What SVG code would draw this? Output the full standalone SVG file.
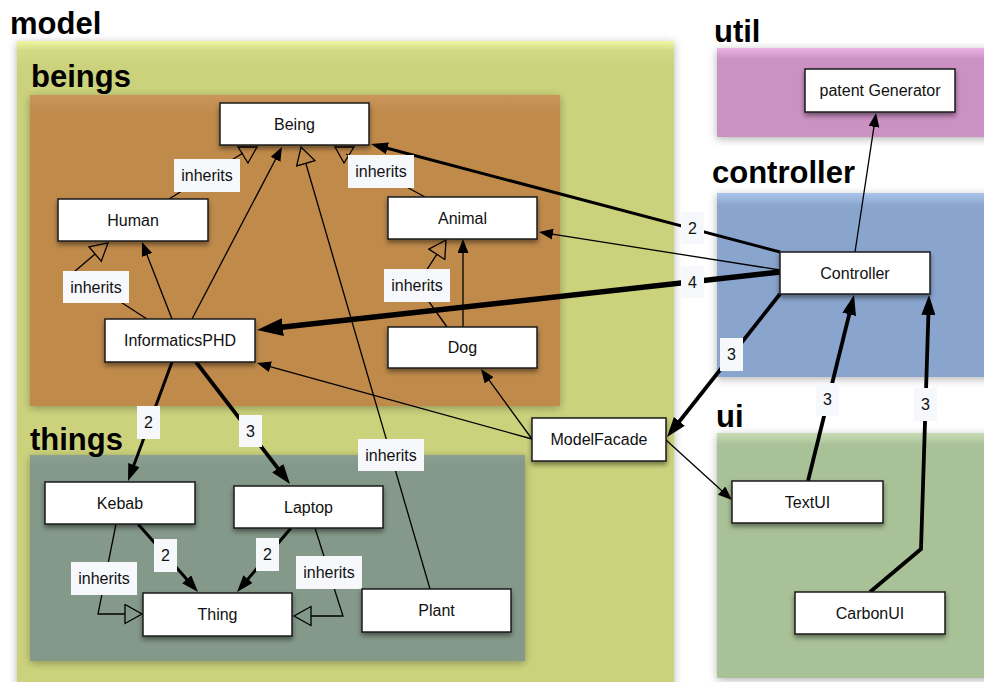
<svg xmlns="http://www.w3.org/2000/svg" width="984" height="682" viewBox="0 0 984 682">
  <defs>
    <style>
      .title { font-family: "Liberation Sans", Arial, Helvetica, sans-serif; font-weight: bold; font-size: 31px; fill: #000; }
      .node rect { fill: #fff; stroke: #1a1a1a; stroke-width: 1.5; filter: url(#nodeShadow); }
      .node text, .lbl text { font-family: "Liberation Sans", Arial, Helvetica, sans-serif; font-size: 16px; fill: #111; text-anchor: middle; }
      .lbl rect { fill: #f7f8fc; }
      .edge { fill: none; stroke: #000; stroke-linejoin: miter; }
      .thin { stroke-width: 1.3; }
      .w2 { stroke-width: 3; }
      .w3 { stroke-width: 3.8; }
      .w4 { stroke-width: 5.5; }
      .hollow { fill: none; stroke: #000; stroke-width: 1.3; }
    </style>
    <filter id="nodeShadow" x="-20%" y="-30%" width="140%" height="180%">
      <feDropShadow dx="0" dy="3" stdDeviation="2.5" flood-color="#000" flood-opacity="0.45"/>
    </filter>
    <filter id="boxShadow" x="-5%" y="-5%" width="110%" height="115%">
      <feDropShadow dx="0" dy="2" stdDeviation="4" flood-color="#000" flood-opacity="0.3"/>
    </filter>
    <linearGradient id="gModel" x1="0" y1="0" x2="0" y2="1">
      <stop offset="0" stop-color="#f2f7a2"/>
      <stop offset="0.015" stop-color="#d3d985"/>
      <stop offset="0.04" stop-color="#ccd27c"/>
      <stop offset="1" stop-color="#ccd27c"/>
    </linearGradient>
    <linearGradient id="gBeings" x1="0" y1="0" x2="0" y2="1">
      <stop offset="0" stop-color="#ca965a"/>
      <stop offset="0.06" stop-color="#c08a4c"/>
      <stop offset="1" stop-color="#c08a4c"/>
    </linearGradient>
    <linearGradient id="gThings" x1="0" y1="0" x2="0" y2="1">
      <stop offset="0" stop-color="#8ba092"/>
      <stop offset="0.05" stop-color="#84998a"/>
      <stop offset="1" stop-color="#84998a"/>
    </linearGradient>
    <linearGradient id="gUtil" x1="0" y1="0" x2="0" y2="1">
      <stop offset="0" stop-color="#ebb3e3"/>
      <stop offset="0.12" stop-color="#cc91c3"/>
      <stop offset="1" stop-color="#cc91c3"/>
    </linearGradient>
    <linearGradient id="gCtrl" x1="0" y1="0" x2="0" y2="1">
      <stop offset="0" stop-color="#aac4ec"/>
      <stop offset="0.07" stop-color="#8aa5cd"/>
      <stop offset="1" stop-color="#8aa5cd"/>
    </linearGradient>
    <linearGradient id="gUi" x1="0" y1="0" x2="0" y2="1">
      <stop offset="0" stop-color="#c8dcb6"/>
      <stop offset="0.05" stop-color="#a9c196"/>
      <stop offset="1" stop-color="#a9c196"/>
    </linearGradient>
    <!-- filled arrowheads, sized per line weight -->
    <marker id="arrS" markerUnits="userSpaceOnUse" markerWidth="14" markerHeight="11" refX="7" refY="5.5" orient="auto">
      <path d="M0,0 L14,5.5 L0,11 z" fill="#000"/>
    </marker>
    <marker id="arrM" markerUnits="userSpaceOnUse" markerWidth="17" markerHeight="12" refX="9" refY="6" orient="auto">
      <path d="M0,0 L17,6 L0,12 z" fill="#000"/>
    </marker>
    <marker id="arrL" markerUnits="userSpaceOnUse" markerWidth="20" markerHeight="14" refX="10" refY="7" orient="auto">
      <path d="M0,0 L20,7 L0,14 z" fill="#000"/>
    </marker>
    <marker id="arrXL" markerUnits="userSpaceOnUse" markerWidth="26" markerHeight="18" refX="13" refY="9" orient="auto">
      <path d="M0,0 L26,9 L0,18 z" fill="#000"/>
    </marker>
    <!-- hollow generalization triangle, base at line end -->
    <marker id="inh" markerUnits="userSpaceOnUse" markerWidth="20" markerHeight="22" refX="1" refY="10.5" orient="auto">
      <path d="M1,1 L18,10.5 L1,20 z" fill="none" stroke="#000" stroke-width="1.3"/>
    </marker>
  </defs>

  <rect width="984" height="682" fill="#fff"/>

  <!-- packages -->
  <g id="pkg-model">
    <rect x="17" y="41" width="657" height="645" fill="url(#gModel)" filter="url(#boxShadow)"/>
    <text class="title" x="10" y="34">model</text>
  </g>
  <g id="pkg-beings">
    <rect x="30" y="95" width="530" height="311" fill="url(#gBeings)" filter="url(#boxShadow)"/>
    <text class="title" x="31" y="87">beings</text>
  </g>
  <g id="pkg-things">
    <rect x="30" y="455" width="495" height="206" fill="url(#gThings)" filter="url(#boxShadow)"/>
    <text class="title" x="30" y="450">things</text>
  </g>
  <g id="pkg-util">
    <rect x="717" y="48" width="280" height="89" fill="url(#gUtil)" filter="url(#boxShadow)"/>
    <text class="title" x="714" y="42">util</text>
  </g>
  <g id="pkg-controller">
    <rect x="717" y="193" width="280" height="184" fill="url(#gCtrl)" filter="url(#boxShadow)"/>
    <text class="title" x="712" y="183">controller</text>
  </g>
  <g id="pkg-ui">
    <rect x="717" y="433" width="280" height="245" fill="url(#gUi)" filter="url(#boxShadow)"/>
    <text class="title" x="716" y="427">ui</text>
  </g>

  <!-- connectors -->
  <g id="connectors">
    <!-- generalizations -->
    <line class="edge thin" x1="169" y1="199" x2="243" y2="153"/>
    <polygon class="hollow" points="238,147 257,147 248,163"/>
    <line class="edge thin" x1="425" y1="197" x2="346" y2="154"/>
    <polygon class="hollow" points="335,147 354,147 344,163"/>
    <polyline class="edge thin" points="147,319 74,272 95.1,254" marker-end="url(#inh)"/>
    <line class="edge thin" x1="430" y1="589" x2="305.8" y2="163.3" marker-end="url(#inh)"/>
    <polyline class="edge thin" points="447,327 417,285 436.8,254.3" marker-end="url(#inh)"/>
    <polyline class="edge thin" points="116,524 98,614 125,614" marker-end="url(#inh)"/>
    <polyline class="edge thin" points="315,528 343,616 311,616" marker-end="url(#inh)"/>

    <!-- plain associations -->
    <line class="edge thin" x1="192" y1="319" x2="278.75" y2="153.2" marker-end="url(#arrS)"/>
    <line class="edge thin" x1="172" y1="319" x2="144.5" y2="248.5" marker-end="url(#arrS)"/>
    <line class="edge thin" x1="463" y1="327" x2="463" y2="246" marker-end="url(#arrS)"/>
    <line class="edge thin" x1="780" y1="270" x2="545.9" y2="233.1" marker-end="url(#arrS)"/>
    <line class="edge thin" x1="532" y1="439" x2="263.7" y2="364.9" marker-end="url(#arrS)"/>
    <line class="edge thin" x1="532" y1="439" x2="485.1" y2="374.7" marker-end="url(#arrS)"/>
    <line class="edge thin" x1="666" y1="440" x2="726.8" y2="495.3" marker-end="url(#arrS)"/>
    <line class="edge thin" x1="855" y1="252" x2="875" y2="119.9" marker-end="url(#arrS)"/>

    <!-- weighted associations -->
    <line class="edge w2" x1="780" y1="252" x2="378.7" y2="146" marker-end="url(#arrM)"/>
    <line class="edge w2" x1="172" y1="362" x2="130.8" y2="473.5" marker-end="url(#arrM)"/>
    <line class="edge w2" x1="138" y1="524" x2="192.7" y2="586" marker-end="url(#arrM)"/>
    <line class="edge w2" x1="291" y1="528" x2="242.2" y2="585.9" marker-end="url(#arrM)"/>
    <line class="edge w3" x1="780" y1="294" x2="673.2" y2="429.2" marker-end="url(#arrL)"/>
    <line class="edge w3" x1="808" y1="481" x2="851.6" y2="304.7" marker-end="url(#arrL)"/>
    <polyline class="edge w3" points="870,592 921,549 928.7,305" marker-end="url(#arrL)"/>
    <line class="edge w3" x1="196" y1="362" x2="283.9" y2="476.1" marker-end="url(#arrL)"/>
    <line class="edge w4" x1="780" y1="272" x2="269.9" y2="328.6" marker-end="url(#arrXL)"/>

    <!-- edge labels -->
    <g class="lbl"><rect x="174" y="159" width="66" height="33"/><text x="207" y="181">inherits</text></g>
    <g class="lbl"><rect x="348" y="155" width="66" height="33"/><text x="381" y="177">inherits</text></g>
    <g class="lbl"><rect x="63" y="271" width="66" height="32"/><text x="96" y="293">inherits</text></g>
    <g class="lbl"><rect x="384" y="269" width="66" height="33"/><text x="417" y="291">inherits</text></g>
    <g class="lbl"><rect x="358" y="439" width="66" height="32"/><text x="391" y="461">inherits</text></g>
    <g class="lbl"><rect x="71" y="562" width="66" height="33"/><text x="104" y="584">inherits</text></g>
    <g class="lbl"><rect x="296" y="556" width="66" height="33"/><text x="329" y="578">inherits</text></g>

    <g class="lbl"><rect x="681" y="212" width="23" height="32"/><text x="692.5" y="234">2</text></g>
    <g class="lbl"><rect x="681" y="266" width="23" height="32"/><text x="692.5" y="288">4</text></g>
    <g class="lbl"><rect x="720" y="338" width="23" height="33"/><text x="731.5" y="360">3</text></g>
    <g class="lbl"><rect x="816" y="383" width="23" height="33"/><text x="827.5" y="405">3</text></g>
    <g class="lbl"><rect x="914" y="388" width="23" height="33"/><text x="925.5" y="410">3</text></g>
    <g class="lbl"><rect x="137" y="406" width="23" height="33"/><text x="148.5" y="428">2</text></g>
    <g class="lbl"><rect x="239" y="415" width="23" height="32"/><text x="250.5" y="437">3</text></g>
    <g class="lbl"><rect x="154" y="539" width="23" height="33"/><text x="165.5" y="561">2</text></g>
    <g class="lbl"><rect x="256" y="538" width="23" height="33"/><text x="267.5" y="560">2</text></g>
  </g>

  <!-- classes -->
  <g id="Being" class="node"><rect x="220" y="103" width="149" height="42"/><text x="294.5" y="129.5">Being</text></g>
  <g id="Human" class="node"><rect x="58" y="199" width="150" height="42"/><text x="133" y="225.5">Human</text></g>
  <g id="Animal" class="node"><rect x="388" y="197" width="149" height="42"/><text x="462.5" y="223.5">Animal</text></g>
  <g id="InformaticsPHD" class="node"><rect x="105" y="319" width="150" height="43"/><text x="180" y="346">InformaticsPHD</text></g>
  <g id="Dog" class="node"><rect x="388" y="327" width="149" height="41"/><text x="462.5" y="353">Dog</text></g>
  <g id="ModelFacade" class="node"><rect x="532" y="418" width="134" height="43"/><text x="599" y="445">ModelFacade</text></g>
  <g id="Kebab" class="node"><rect x="45" y="482" width="150" height="42"/><text x="120" y="508.5">Kebab</text></g>
  <g id="Laptop" class="node"><rect x="234" y="486" width="149" height="42"/><text x="308.5" y="512.5">Laptop</text></g>
  <g id="Thing" class="node"><rect x="143" y="593" width="149" height="43"/><text x="217.5" y="620">Thing</text></g>
  <g id="Plant" class="node"><rect x="362" y="589" width="149" height="43"/><text x="436.5" y="616">Plant</text></g>
  <g id="PatentGenerator" class="node"><rect x="805" y="69" width="150" height="43"/><text x="880" y="96">patent Generator</text></g>
  <g id="Controller" class="node"><rect x="780" y="252" width="150" height="42"/><text x="855" y="278.5">Controller</text></g>
  <g id="TextUI" class="node"><rect x="732" y="481" width="151" height="42"/><text x="807.5" y="507.5">TextUI</text></g>
  <g id="CarbonUI" class="node"><rect x="795" y="592" width="150" height="42"/><text x="870" y="618.5">CarbonUI</text></g>
</svg>
